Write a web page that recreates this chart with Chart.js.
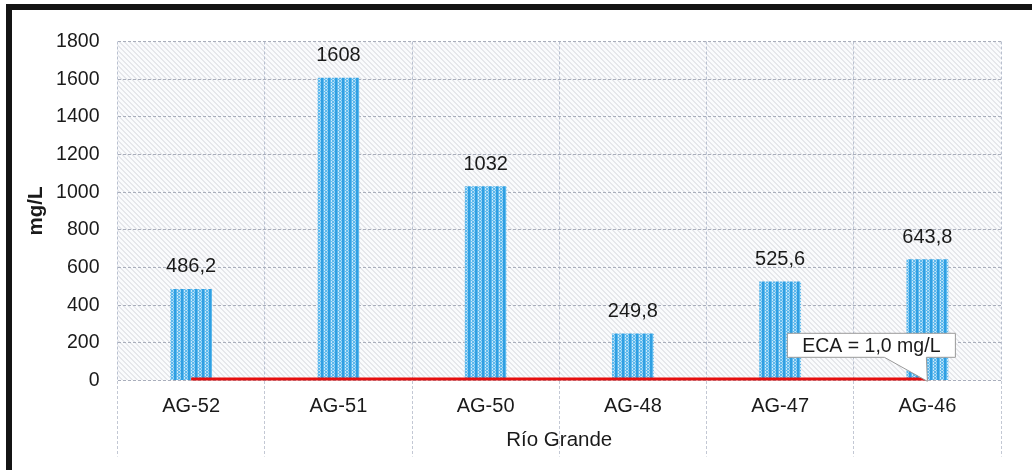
<!DOCTYPE html>
<html>
<head>
<meta charset="utf-8">
<script src="https://cdn.jsdelivr.net/npm/chart.js@4.4.1/dist/chart.umd.min.js"></script>
<style>
  html, body { margin: 0; padding: 0; background: #ffffff; }
  #wrap { position: relative; width: 1032px; height: 470px; overflow: hidden; }
  #chart { position: absolute; left: 0; top: 0; }
  #frame {
    position: absolute; left: 6px; top: 4px; width: 1020px; height: 462px;
    border-left: 6px solid #141414; border-top: 6px solid #141414;
    border-right: 1px solid #dcdcdc; border-bottom: 1px solid #dcdcdc;
    pointer-events: none;
  }
</style>
</head>
<body>
<div id="wrap">
  <canvas id="chart" width="1032" height="470"></canvas>
  <div id="frame"></div>
</div>
<script>
// Sampling stations along Río Grande
const stations = ['AG-52', 'AG-51', 'AG-50', 'AG-48', 'AG-47', 'AG-46'];
// Measured concentration (mg/L)
const concentration = [486.2, 1608, 1032, 249.8, 525.6, 643.8];
// Environmental quality standard (ECA) reference level
const ecaLimit = [1.0, 1.0, 1.0, 1.0, 1.0, 1.0];
const ecaLabel = 'ECA = 1,0 mg/L';
// Y axis tick values
const yTicks = [0, 200, 400, 600, 800, 1000, 1200, 1400, 1600, 1800];
const yTitle = 'mg/L';
const xTitle = 'Río Grande';

const FONT = '"Liberation Sans", Arial, Helvetica, sans-serif';
const TEXT = '#1a1a1a';

const fmt = v => String(v).replace('.', ',');

// Vertical dotted fill for the bars
function barPattern() {
  const c = document.createElement('canvas');
  c.width = 7; c.height = 3;
  const g = c.getContext('2d');
  g.fillStyle = '#2f9fe2'; g.fillRect(0, 0, 7, 3);
  g.fillStyle = '#5db8ec'; g.fillRect(1, 0, 5, 3);
  g.fillStyle = '#c9e8fa';
  g.fillRect(2, 0, 1, 1); g.fillRect(4, 1, 1, 1); g.fillRect(2, 2, 1, 1);
  g.fillStyle = '#9ad3f4';
  g.fillRect(3, 1, 1, 1); g.fillRect(5, 0, 1, 1); g.fillRect(5, 2, 1, 1);
  return g.createPattern(c, 'repeat');
}

// Light diagonal hatching behind the plot area
const plotBackground = {
  id: 'plotBackground',
  beforeDraw(chart) {
    const { ctx, chartArea: a } = chart;
    ctx.save();
    ctx.fillStyle = '#fafbfd';
    ctx.fillRect(a.left, a.top, a.right - a.left, a.bottom - a.top);
    ctx.beginPath();
    ctx.rect(a.left, a.top, a.right - a.left, a.bottom - a.top);
    ctx.clip();
    ctx.strokeStyle = 'rgba(120,124,135,0.30)';
    ctx.lineWidth = 1;
    const h = a.bottom - a.top;
    ctx.beginPath();
    for (let x = a.left - h; x < a.right; x += 5) {
      ctx.moveTo(x + 0.5, a.top);
      ctx.lineTo(x + h + 0.5, a.bottom);
    }
    ctx.stroke();
    ctx.restore();
  }
};

// Value labels above the bars and the ECA callout
const annotations = {
  id: 'annotations',
  afterDatasetsDraw(chart) {
    const { ctx } = chart;
    ctx.save();
    ctx.font = '20px ' + FONT;
    ctx.fillStyle = TEXT;
    ctx.textAlign = 'center';
    ctx.textBaseline = 'middle';
    const bars = chart.getDatasetMeta(0).data;
    bars.forEach((bar, i) => {
      ctx.fillText(fmt(concentration[i]), bar.x, bar.y - 22);
    });

    // callout pointing at the last point of the ECA line
    const pts = chart.getDatasetMeta(1).data;
    const tip = pts[pts.length - 1];
    const tx = tip.x, ty = tip.y + 1;
    const L = tx - 140, R = tx + 28, T = ty - 48, B = ty - 24;
    ctx.beginPath();
    ctx.moveTo(L, T);
    ctx.lineTo(R, T);
    ctx.lineTo(R, B);
    ctx.lineTo(tx - 1, B);
    ctx.lineTo(tx, ty);
    ctx.lineTo(tx - 43, B);
    ctx.lineTo(L, B);
    ctx.closePath();
    ctx.fillStyle = '#ffffff';
    ctx.fill();
    ctx.strokeStyle = '#9a9a9a';
    ctx.lineWidth = 1;
    ctx.stroke();
    ctx.fillStyle = TEXT;
    ctx.font = '19.5px ' + FONT;
    ctx.fillText(ecaLabel, (L + R) / 2, (T + B) / 2 + 1);
    ctx.restore();
  }
};

new Chart(document.getElementById('chart'), {
  data: {
    labels: stations,
    datasets: [
      {
        type: 'bar',
        label: 'Concentración',
        data: concentration,
        backgroundColor: barPattern(),
        borderWidth: 0,
        categoryPercentage: 1,
        barPercentage: 0.284,
        order: 2
      },
      {
        type: 'line',
        label: 'ECA',
        data: ecaLimit,
        borderColor: '#e60f0f',
        borderWidth: 5.5,
        pointRadius: 0,
        borderCapStyle: 'butt',
        order: 1
      }
    ]
  },
  options: {
    responsive: false,
    animation: false,
    layout: { padding: { top: 41.5, right: 31, left: 0, bottom: 0 } },
    plugins: {
      legend: { display: false },
      tooltip: { enabled: false }
    },
    scales: {
      x: {
        offset: true,
        grid: {
          offset: true,
          color: '#b9c0d0',
          lineWidth: 1,
          drawTicks: true,
          tickLength: 76,
          tickColor: '#c3c8d4',
          tickBorderDash: [3, 2]
        },
        border: { display: false, dash: [3, 2] },
        ticks: {
          padding: -62.5,
          color: TEXT,
          font: { family: FONT, size: 20 }
        },
        title: {
          display: true,
          text: xTitle,
          color: TEXT,
          font: { family: FONT, size: 20.5 },
          padding: { top: 0, bottom: 17 }
        },
        afterFit(scale) { scale.height = 89.5; }
      },
      y: {
        min: 0,
        max: 1800,
        afterBuildTicks(scale) { scale.ticks = yTicks.map(v => ({ value: v })); },
        grid: {
          color: '#a9aebb',
          lineWidth: 1,
          drawTicks: false
        },
        border: { display: false, dash: [3, 2] },
        ticks: {
          padding: 18,
          color: TEXT,
          font: { family: FONT, size: 19.5 },
          callback: v => String(v)
        },
        title: {
          display: true,
          text: yTitle,
          color: TEXT,
          font: { family: FONT, size: 20.5, weight: 'bold' },
          padding: { top: 24, bottom: 0 }
        },
        afterFit(scale) { scale.width = 117.5; }
      }
    }
  },
  plugins: [plotBackground, annotations]
});
</script>
</body>
</html>
